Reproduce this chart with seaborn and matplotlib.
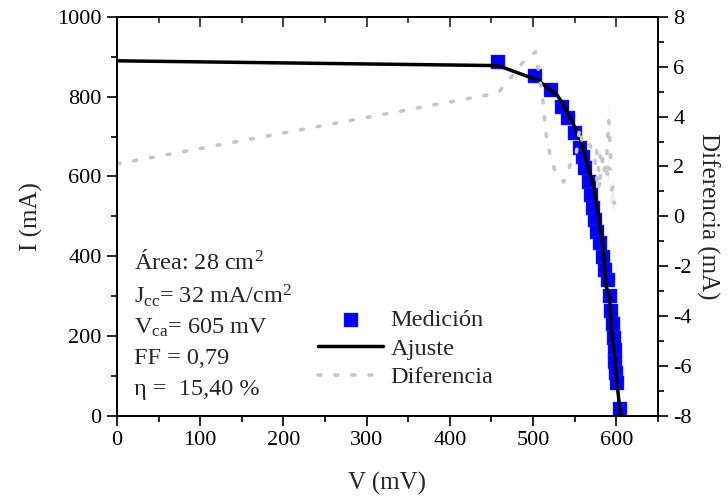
import numpy as np
import pandas as pd
import matplotlib
matplotlib.use("Agg")
import matplotlib.pyplot as plt
from matplotlib.ticker import MultipleLocator
import seaborn as sns

# Medición (V en mV, I en mA)
v_med = [458, 502, 521, 535, 542, 550, 556, 560, 563, 567, 570, 572, 575, 577,
         581, 584, 587, 590, 592, 594, 596, 597, 598, 599, 600, 601, 604]
i_med = [888, 852, 817, 774, 746, 709, 671, 649, 621, 586, 553, 521, 491, 460,
         433, 398, 365, 340, 300, 262, 230, 195, 165, 135, 108, 82, 16]

# Ajuste
v_fit = [0, 458, 505, 529, 538, 550, 558, 566, 573, 579, 584, 588, 592,
         594, 598, 601, 605]
i_fit = [890, 878, 842, 804, 774, 724, 687, 624, 574, 499, 423, 323, 298,
         222, 150, 80, 0]

# Diferencia (eje derecho)
v_dif = [0, 458, 474, 490, 503, 506, 509, 512, 514, 516, 520, 526, 537, 545,
         552, 556, 560, 568, 574, 578, 583, 588, 591, 591, 591, 594, 590, 584,
         580, 576, 590, 596, 592, 598, 592, 598, 596]
d_dif = [2.1, 4.95, 5.6, 6.27, 6.6, 5.95, 5.27, 4.6, 3.87, 3.2, 2.54, 1.86,
         1.38, 2.1, 2.55, 3.55, 2.8, 2.9, 2.35, 1.05, 1.7, 2.05, 4.5, 3.87,
         3.2, 1.86, 2.5, 2.4, 1.4, 2.8, 1.4, 1.34, 1.15, 0.8, 0.6, 0.25, 1.0]

sns.set_theme(style="ticks")
plt.rcParams['font.family'] = ['Liberation Serif', 'DejaVu Serif']
plt.rcParams['mathtext.fontset'] = 'custom'
plt.rcParams['mathtext.rm'] = 'Liberation Serif'
plt.rcParams['mathtext.it'] = 'Liberation Serif:italic'
plt.rcParams['axes.unicode_minus'] = False

fig = plt.figure(figsize=(7.28, 4.99), dpi=100)
ax = fig.add_axes([0.1607, 0.167, 0.743, 0.799])
ax2 = ax.twinx()

sns.lineplot(x=v_dif, y=d_dif, ax=ax2, sort=False, color='#c6c6c6', lw=2.6,
             linestyle=(0, (0.8, 3.9)), dash_capstyle='round', label='Diferencia',
             legend=False)
sns.lineplot(x=v_fit, y=i_fit, ax=ax, sort=False, color='black', lw=2.5,
             label='Ajuste', legend=False, zorder=3)
sns.scatterplot(x=v_med, y=i_med, ax=ax, marker='s', s=95, color='#0000ff',
                edgecolor='#3030ff', linewidth=0.3, label='Medición', legend=False,
                zorder=2)

ax.set_xlim(0, 650)
ax.set_ylim(0, 1000)
ax2.set_ylim(-8, 8)

ax.xaxis.set_major_locator(MultipleLocator(100))
ax.xaxis.set_minor_locator(MultipleLocator(50))
ax.yaxis.set_major_locator(MultipleLocator(200))
ax.yaxis.set_minor_locator(MultipleLocator(100))
ax2.yaxis.set_major_locator(MultipleLocator(2))
ax2.yaxis.set_minor_locator(MultipleLocator(1))

for a in (ax, ax2):
    for s in a.spines.values():
        s.set_color('black')
        s.set_linewidth(1.3)
    a.tick_params(which='major', direction='out', length=7, width=1.2,
                  labelsize=16, colors='black', pad=4)
    a.tick_params(which='minor', direction='out', length=4, width=1.2,
                  colors='black')

top = ax.secondary_xaxis('top')
top.xaxis.set_major_locator(MultipleLocator(100))
top.xaxis.set_minor_locator(MultipleLocator(50))
top.tick_params(which='major', direction='in', length=7, width=1.2, labeltop=False)
top.tick_params(which='minor', direction='in', length=4, width=1.2)

ax.set_xlabel('V (mV)', fontsize=18, labelpad=16)
ax.set_ylabel('I (mA)', fontsize=18, labelpad=10)
ax2.set_ylabel('Diferencia (mA)', fontsize=18, rotation=270, labelpad=20)

txt_fs = 17.5
ax.text(20, 386, 'Área: 28 cm$^2$', fontsize=txt_fs, va='center')
ax.text(20, 300, 'J$_{\\rm cc}$= 32 mA/cm$^2$', fontsize=txt_fs, va='center')
ax.text(20, 220, 'V$_{\\rm ca}$= 605 mV', fontsize=txt_fs, va='center')
ax.text(20, 144, 'FF = 0,79', fontsize=txt_fs, va='center')
ax.text(20, 66, 'η =  15,40 %', fontsize=txt_fs, va='center')

h1, l1 = ax.get_legend_handles_labels()
h2, l2 = ax2.get_legend_handles_labels()
order = [l1.index('Medición'), l1.index('Ajuste')]
handles = [h1[i] for i in order] + h2
labels = [l1[i] for i in order] + l2
ax2.legend(handles, labels, loc='upper left', bbox_to_anchor=(0.372, 0.268),
           frameon=False, fontsize=17.6, borderpad=0, handlelength=2.66,
           handletextpad=0.29, labelspacing=0.27, borderaxespad=0)

fig.savefig('out.png', dpi=100)
